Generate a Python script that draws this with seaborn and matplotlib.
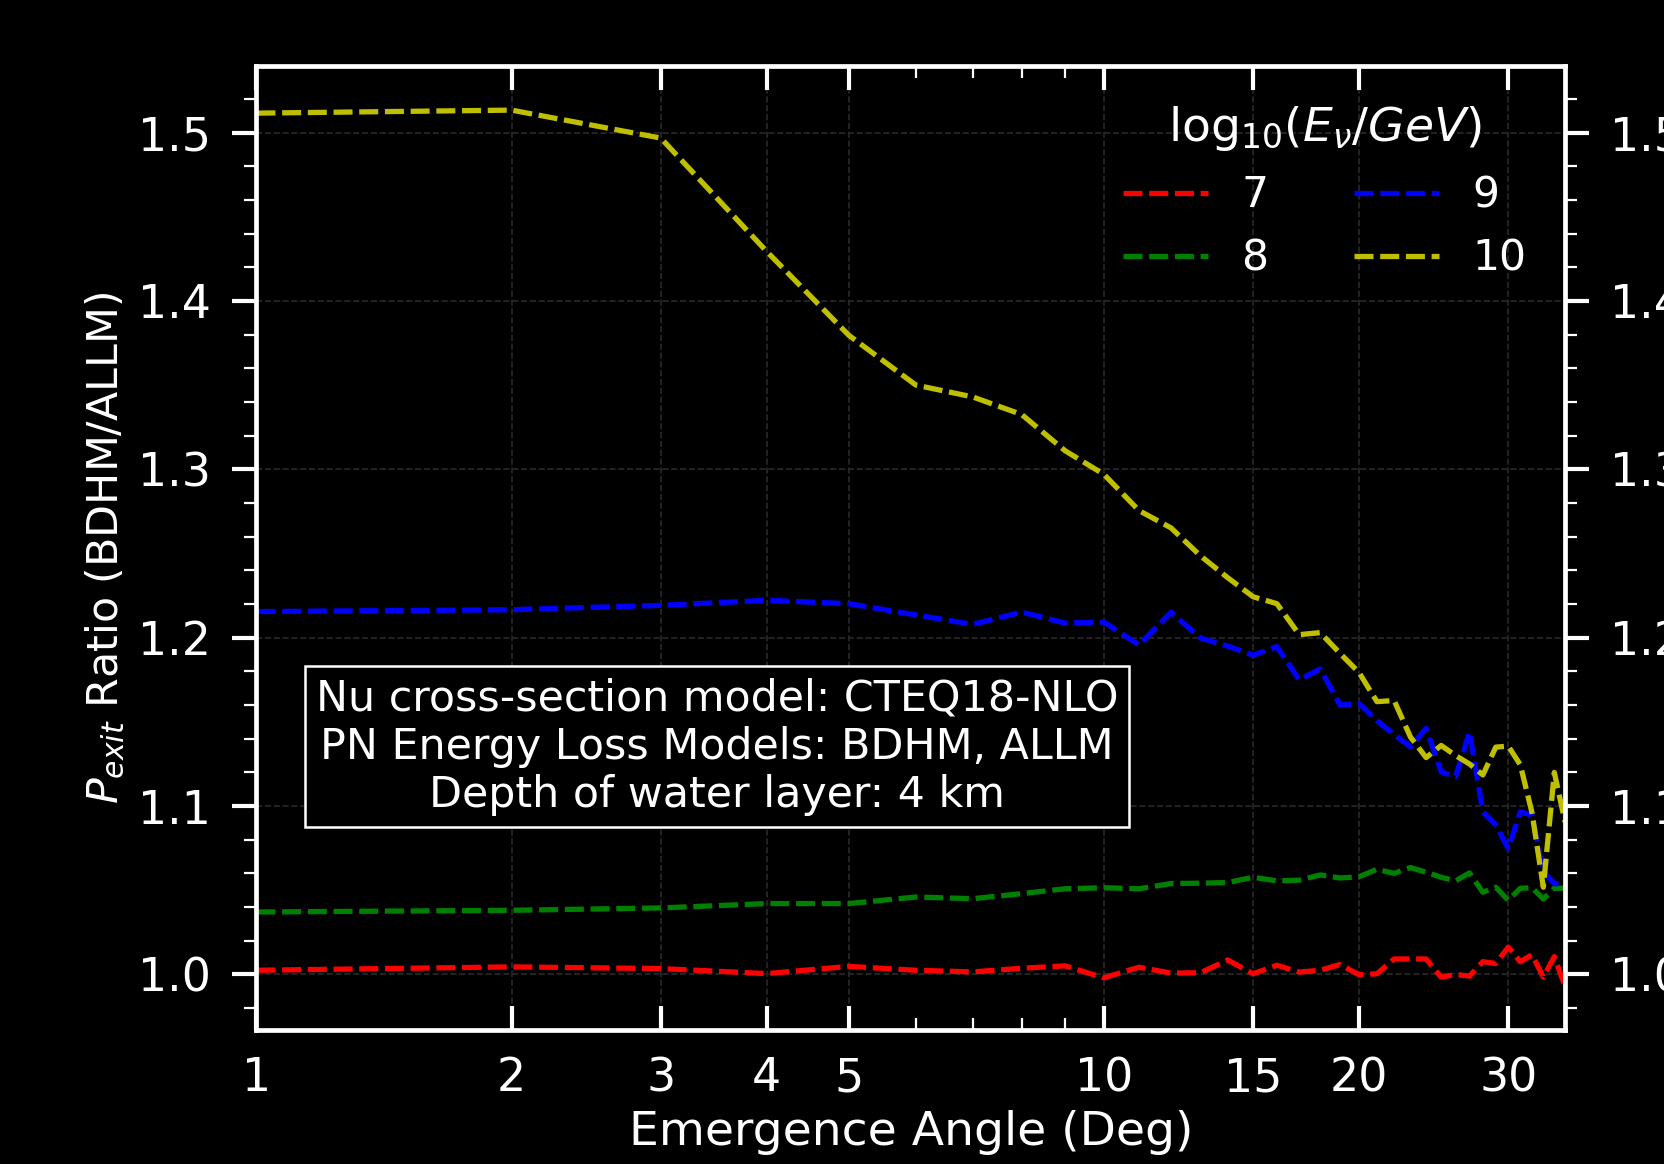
import matplotlib
matplotlib.use("Agg")
import matplotlib.pyplot as plt
import seaborn as sns
import pandas as pd
from matplotlib.ticker import MultipleLocator, NullFormatter, FixedLocator, FixedFormatter

# ---------------- data ----------------
angles = [1, 2, 3, 4, 5, 6, 7, 8, 9, 10, 11, 12, 13, 14, 15, 16, 17, 18,
          19, 20, 21, 22, 23, 24, 25, 26, 27, 28, 29, 30, 31, 32, 33, 34, 35]

ratio_e7 = [1.0025, 1.0045, 1.0035, 1.0005, 1.0048, 1.0025, 1.0015, 1.0037,
            1.0051, 0.9980, 1.0043, 1.0008, 1.0010, 1.0086, 1.0004, 1.0055,
            1.0014, 1.0025, 1.0059, 0.9998, 1.0004, 1.0092, 1.0092, 1.0092,
            0.9984, 1.0000, 0.9990, 1.0076, 1.0065, 1.0162, 1.0076, 1.0117,
            0.9984, 1.0106, 0.9930]

ratio_e8 = [1.0371, 1.0381, 1.0395, 1.0421, 1.0421, 1.0460, 1.0450, 1.0480,
            1.0509, 1.0515, 1.0509, 1.0540, 1.0542, 1.0546, 1.0577, 1.0556,
            1.0560, 1.0591, 1.0573, 1.0580, 1.0625, 1.0600, 1.0635, 1.0607,
            1.0577, 1.0556, 1.0603, 1.0488, 1.0518, 1.0440, 1.0512, 1.0515,
            1.0448, 1.0512, 1.0512]

ratio_e9 = [1.2155, 1.2166, 1.2192, 1.2222, 1.2202, 1.2135, 1.2079, 1.2152,
            1.2087, 1.2093, 1.1957, 1.2151, 1.1998, 1.1950, 1.1896, 1.1947,
            1.1750, 1.1814, 1.1600, 1.1610, 1.1507, 1.1425, 1.1352, 1.1462,
            1.1203, 1.1174, 1.1440, 1.0966, 1.0887, 1.0748, 1.0966, 1.0946,
            1.0610, 1.0540, 1.0530]

ratio_e10 = [1.5115, 1.5133, 1.4967, 1.4294, 1.3796, 1.3500, 1.3430, 1.3325,
             1.3110, 1.2970, 1.2755, 1.2652, 1.2486, 1.2356, 1.2243, 1.2202,
             1.2018, 1.2030, 1.1906, 1.1793, 1.1620, 1.1627, 1.1410, 1.1288,
             1.1360, 1.1300, 1.1250, 1.1185, 1.1350, 1.1356, 1.1245, 1.0960,
             1.0518, 1.1200, 1.0906]

energies = ["7", "8", "9", "10"]
colors = ["r", "g", "b", "y"]

x_ticks = [1, 2, 3, 4, 5, 10, 15, 20, 30]
x_ticklabels = ["1", "2", "3", "4", "5", "10", "15", "20", "30"]

box_text = ("Nu cross-section model: CTEQ18-NLO\n"
            "PN Energy Loss Models: BDHM, ALLM\n"
            "Depth of water layer: 4 km")

# ---------------- style ----------------
sns.set_style("dark")
plt.rcParams.update({
    "figure.facecolor": "black",
    "axes.facecolor": "black",
    "savefig.facecolor": "black",
    "text.color": "white",
    "axes.labelcolor": "white",
    "xtick.color": "white",
    "ytick.color": "white",
    "axes.edgecolor": "white",
    "mathtext.fontset": "dejavusans",
})
plt.rcParams["font.family"] = ["DejaVu Sans"]

df = pd.DataFrame({
    "angle": angles * 4,
    "ratio": ratio_e7 + ratio_e8 + ratio_e9 + ratio_e10,
    "energy": sum([[e] * len(angles) for e in energies], []),
})

fig = plt.figure(figsize=(8.32, 5.82), dpi=200)
ax = fig.add_axes([0.1541, 0.1151, 0.7864, 0.8282])

sns.lineplot(data=df, x="angle", y="ratio", hue="energy", hue_order=energies,
             palette=colors, linestyle=(0, (3.6, 1.27)), linewidth=1.9,
             errorbar=None, legend=False, ax=ax)

ax.set_xscale("log")
ax.set_xlim(1, 35)
ax.set_ylim(0.967, 1.5395)

ax.xaxis.set_major_locator(FixedLocator(x_ticks))
ax.xaxis.set_major_formatter(FixedFormatter(x_ticklabels))
ax.xaxis.set_minor_formatter(NullFormatter())
ax.yaxis.set_major_locator(MultipleLocator(0.1))
ax.yaxis.set_minor_locator(MultipleLocator(0.02))

ax.grid(which="major", linestyle="--", color="#2a2a2a", linewidth=0.6)
ax.grid(which="minor", visible=False)

ax.tick_params(axis="x", which="both", direction="in", top=True, bottom=True,
               pad=9.5, labelsize=16.5)
ax.tick_params(axis="y", which="both", direction="out", left=True, right=True,
               labelleft=True, labelright=True, pad=7.8, labelsize=16.5)
ax.tick_params(which="major", length=8.5, width=1.5)
ax.tick_params(which="minor", length=4.2, width=0.8)

for sp in ax.spines.values():
    sp.set_color("white")
    sp.set_linewidth(1.7)

ax.set_xlabel("Emergence Angle (Deg)", fontsize=17, labelpad=3)
ax.set_ylabel(r"$P_{exit}$ Ratio (BDHM/ALLM)", fontsize=15.4)

handles = ax.get_lines()[:4]
ax.legend(handles=handles, labels=energies, ncol=2, loc="upper right",
          frameon=False, title=r"$\mathrm{log}_{10}(E_\nu/GeV)$",
          fontsize=15.3, title_fontsize=17)

ax.text(0.352, 0.294, box_text, transform=ax.transAxes, ha="center",
        va="center", multialignment="center", fontsize=15.4, color="white",
        bbox=dict(boxstyle="square,pad=0.25", facecolor="black",
                  edgecolor="white", linewidth=0.9))

fig.savefig("out.png", dpi=200, facecolor="black")
